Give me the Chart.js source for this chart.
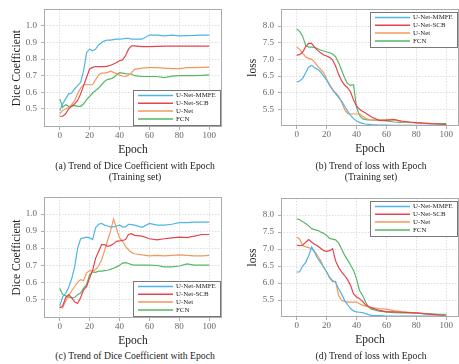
<!DOCTYPE html>
<html>
<head>
<meta charset="utf-8">
<script src="https://cdn.jsdelivr.net/npm/chart.js@4.4.1/dist/chart.umd.min.js"></script>
<style>
body{margin:0;width:459px;height:364px;overflow:hidden;background:#fff;position:relative;font-family:"Liberation Serif",serif;}
canvas{position:absolute;}
.cap{position:absolute;font-size:9.7px;color:#222;text-align:center;white-space:nowrap;line-height:11px;transform:translateX(-50%);}
</style>
</head>
<body>
<canvas id="chartA" style="left:0;top:0" width="230" height="159"></canvas>
<canvas id="chartB" style="left:229px;top:0" width="231" height="158"></canvas>
<canvas id="chartC" style="left:0;top:182px" width="230" height="168"></canvas>
<canvas id="chartD" style="left:229px;top:182px" width="231" height="167"></canvas>
<div class="cap" style="left:135px;top:160px">(a) Trend of Dice Coefficient with Epoch<br>(Training set)</div>
<div class="cap" style="left:371px;top:160px">(b) Trend of loss with Epoch<br>(Training set)</div>
<div class="cap" style="left:135px;top:350px">(c) Trend of Dice Coefficient with Epoch</div>
<div class="cap" style="left:371px;top:350px">(d) Trend of loss with Epoch</div>
<script>
// epochs sampled from the curves
const epochs = [0,2,4,6,8,10,12,14,16,18,20,22,24,26,28,30,32,34,36,38,40,42,44,46,48,50,55,60,65,70,75,80,85,90,95,100];
const seriesNames = ['U-Net-MMFE', 'U-Net-SCB', 'U-Net', 'FCN'];
const seriesColors = ['#4fb4e6', '#e4434f', '#f4985a', '#55b865'];
const epochTicks = [0, 20, 40, 60, 80, 100];
const diceTicks = [0.5, 0.6, 0.7, 0.8, 0.9, 1.0];
const lossTicks = [5.5, 6.0, 6.5, 7.0, 7.5, 8.0];

// (a) dice, training
const trainDiceMMFE = [0.49,0.53,0.56,0.59,0.595,0.62,0.64,0.66,0.73,0.84,0.86,0.85,0.86,0.885,0.9,0.91,0.915,0.915,0.918,0.92,0.92,0.922,0.925,0.925,0.92,0.92,0.92,0.945,0.945,0.94,0.945,0.94,0.942,0.943,0.945,0.945];
const trainDiceSCB = [0.455,0.455,0.47,0.5,0.515,0.53,0.55,0.59,0.64,0.69,0.74,0.75,0.755,0.755,0.755,0.755,0.758,0.763,0.77,0.78,0.79,0.795,0.82,0.86,0.88,0.88,0.875,0.875,0.877,0.878,0.878,0.878,0.878,0.878,0.878,0.878];
const trainDiceUNet = [0.47,0.49,0.5,0.505,0.525,0.55,0.59,0.625,0.645,0.645,0.645,0.645,0.675,0.705,0.715,0.715,0.72,0.727,0.72,0.712,0.703,0.698,0.695,0.703,0.718,0.738,0.745,0.748,0.748,0.745,0.742,0.742,0.748,0.748,0.75,0.752];
const trainDiceFCN = [0.56,0.51,0.525,0.515,0.515,0.52,0.515,0.515,0.53,0.555,0.575,0.595,0.61,0.625,0.645,0.665,0.678,0.68,0.688,0.705,0.718,0.715,0.712,0.71,0.71,0.7,0.695,0.695,0.695,0.688,0.697,0.7,0.7,0.7,0.702,0.705];

// (b) loss, training
const trainLossMMFE = [6.32,6.35,6.43,6.6,6.77,6.82,6.75,6.7,6.62,6.5,6.38,6.22,6.08,5.97,5.85,5.75,5.6,5.45,5.32,5.22,5.15,5.11,5.08,5.06,5.05,5.04,5.03,5.03,5.02,5.02,5.02,5.02,5.02,5.02,5.02,5.02];
const trainLossSCB = [7.13,7.14,7.22,7.38,7.48,7.48,7.36,7.27,7.2,7.13,7.1,7.06,6.98,6.8,6.55,6.36,6.23,6.15,6.02,5.78,5.6,5.5,5.44,5.39,5.33,5.27,5.17,5.17,5.19,5.15,5.12,5.1,5.09,5.07,5.06,5.04];
const trainLossUNet = [7.37,7.3,7.18,7.08,7.03,7.0,6.92,6.8,6.7,6.6,6.41,6.24,6.1,6.0,5.9,5.72,5.5,5.38,5.36,5.36,5.36,5.36,5.3,5.23,5.19,5.18,5.18,5.19,5.2,5.13,5.11,5.1,5.08,5.07,5.05,5.04];
const trainLossFCN = [7.91,7.84,7.69,7.42,7.37,7.37,7.36,7.32,7.28,7.25,7.23,7.2,7.16,7.08,6.9,6.68,6.45,6.27,6.22,6.24,5.56,5.32,5.22,5.19,5.18,5.18,5.17,5.15,5.12,5.11,5.12,5.09,5.08,5.07,5.07,5.07];

// (c) dice, validation
const valDiceMMFE = [0.46,0.515,0.535,0.57,0.62,0.69,0.8,0.855,0.86,0.865,0.86,0.85,0.92,0.94,0.945,0.935,0.93,0.925,0.925,0.93,0.935,0.925,0.925,0.94,0.938,0.935,0.922,0.945,0.935,0.935,0.94,0.95,0.95,0.952,0.952,0.953];
const valDiceSCB = [0.45,0.46,0.51,0.527,0.51,0.485,0.475,0.51,0.555,0.575,0.625,0.67,0.74,0.78,0.82,0.82,0.81,0.815,0.825,0.84,0.842,0.845,0.85,0.88,0.885,0.875,0.87,0.855,0.848,0.855,0.86,0.865,0.862,0.87,0.88,0.88];
const valDiceUNet = [0.45,0.45,0.49,0.52,0.55,0.575,0.6,0.615,0.61,0.655,0.668,0.665,0.675,0.695,0.73,0.785,0.845,0.9,0.97,0.915,0.86,0.84,0.81,0.79,0.775,0.767,0.76,0.755,0.757,0.755,0.758,0.76,0.757,0.755,0.755,0.757];
const valDiceFCN = [0.565,0.527,0.52,0.512,0.508,0.51,0.527,0.537,0.565,0.585,0.645,0.66,0.658,0.665,0.665,0.668,0.67,0.675,0.682,0.69,0.7,0.712,0.715,0.71,0.703,0.7,0.7,0.7,0.698,0.69,0.69,0.695,0.708,0.7,0.7,0.7];

// (d) loss, validation
const valLossMMFE = [6.32,6.33,6.5,6.6,6.8,7.06,6.9,6.72,6.6,6.47,6.33,6.17,6.07,6.02,5.83,5.68,5.49,5.36,5.25,5.18,5.15,5.14,5.13,5.1,5.07,5.05,5.04,5.03,5.03,5.03,5.03,5.03,5.03,5.03,5.03,5.03];
const valLossSCB = [7.11,7.1,7.11,7.2,7.28,7.2,7.14,7.09,7.02,6.95,6.93,6.95,7.01,6.65,6.46,6.33,6.22,6.1,5.93,5.68,5.59,5.54,5.46,5.36,5.31,5.27,5.2,5.15,5.15,5.14,5.13,5.12,5.1,5.08,5.06,5.03];
const valLossUNet = [7.35,7.29,7.1,7.06,7.04,7.01,6.92,6.8,6.66,6.46,6.33,6.14,6.04,6.05,5.64,5.49,5.46,5.44,5.44,5.44,5.44,5.39,5.35,5.32,5.3,5.28,5.25,5.23,5.19,5.16,5.14,5.12,5.1,5.08,5.06,5.05];
const valLossFCN = [7.89,7.86,7.8,7.75,7.68,7.6,7.57,7.55,7.5,7.46,7.4,7.31,7.29,7.27,7.18,7.0,6.82,6.68,6.53,6.37,6.12,5.78,5.64,5.44,5.3,5.23,5.17,5.15,5.13,5.12,5.12,5.11,5.1,5.09,5.08,5.08];

// plot frame + legend box drawn inside the chart area
const boxLegend = {
  id: 'boxLegend',
  afterDraw(chart, args, opts) {
    const ctx = chart.ctx, a = chart.chartArea;
    ctx.save();
    ctx.strokeStyle = '#aaa';
    ctx.lineWidth = 1;
    ctx.strokeRect(Math.round(a.left) + 0.5, Math.round(a.top) + 0.5, Math.round(a.right - a.left) - 1, Math.round(a.bottom - a.top) - 1);
    const w = 87, h = 35;
    const x0 = Math.round(a.right) - 2 - w;
    const y0 = opts.corner == 'tr' ? Math.round(a.top) + 3 : Math.round(a.bottom) - 2 - h;
    ctx.fillStyle = '#fff';
    ctx.fillRect(x0, y0, w, h);
    ctx.strokeStyle = '#777';
    ctx.strokeRect(x0 + 0.5, y0 + 0.5, w, h);
    ctx.font = '6.9px "Liberation Serif"';
    ctx.textBaseline = 'middle';
    chart.data.datasets.forEach((d, i) => {
      const y = y0 + 5.5 + i * 7.8;
      ctx.strokeStyle = d.borderColor;
      ctx.lineWidth = 1.5;
      ctx.beginPath();
      ctx.moveTo(x0 + 5, y);
      ctx.lineTo(x0 + 40, y);
      ctx.stroke();
      ctx.fillStyle = '#222';
      ctx.fillText(d.label, x0 + 43, y);
    });
    ctx.restore();
  }
};

function makeChart(id, series, yTitle, yTicks, yMin, yMax, yWidth, yTitlePad, padTop, padRight, corner) {
  const tickFont = {family: '"Liberation Serif"', size: 9};
  const titleFont = {family: '"Liberation Serif"', size: 11.5};
  return new Chart(document.getElementById(id), {
    type: 'line',
    data: {
      datasets: series.map((vals, i) => ({
        label: seriesNames[i],
        data: epochs.map((e, j) => ({x: e, y: vals[j]})),
        borderColor: seriesColors[i],
        borderWidth: 1.2,
        pointRadius: 0,
        tension: 0,
        fill: false
      }))
    },
    options: {
      responsive: false,
      animation: false,
      events: [],
      layout: {padding: {top: padTop, right: padRight, left: 0, bottom: 0}},
      plugins: {legend: {display: false}, tooltip: {enabled: false}, boxLegend: {corner: corner}},
      scales: {
        x: {
          type: 'linear', min: -10.5, max: 108.5,
          afterBuildTicks: s => { s.ticks = epochTicks.map(v => ({value: v})); },
          afterFit: s => { s.height = 32; },
          ticks: {font: tickFont, color: '#666', padding: 0, callback: v => String(v)},
          grid: {color: '#d6d6d6', tickColor: '#999', tickLength: 3, lineWidth: 0.8},
          border: {display: false, dash: [1.5, 1.5]},
          title: {display: true, text: 'Epoch', font: titleFont, color: '#222', padding: {top: 0, bottom: 2}}
        },
        y: {
          min: yMin, max: yMax,
          afterBuildTicks: s => { s.ticks = yTicks.map(v => ({value: v})); },
          afterFit: s => { s.width = yWidth; },
          ticks: {font: tickFont, color: '#666', padding: 4, callback: v => v.toFixed(1)},
          grid: {color: '#d6d6d6', tickColor: '#999', tickLength: 3, lineWidth: 0.8},
          border: {display: false, dash: [1.5, 1.5]},
          title: {display: true, text: yTitle, font: titleFont, color: '#222', padding: {top: yTitlePad, bottom: 0}}
        }
      }
    },
    plugins: [boxLegend]
  });
}

makeChart('chartA', [trainDiceMMFE, trainDiceSCB, trainDiceUNet, trainDiceFCN], 'Dice Coefficient', diceTicks, 0.39, 1.10, 44, 10, 5, 8, 'br');
makeChart('chartB', [trainLossMMFE, trainLossSCB, trainLossUNet, trainLossFCN], 'loss', lossTicks, 5.0, 8.5, 52, 17, 5, 1, 'tr');
makeChart('chartC', [valDiceMMFE, valDiceSCB, valDiceUNet, valDiceFCN], 'Dice Coefficient', diceTicks, 0.39, 1.10, 44, 10, 15, 8, 'br');
makeChart('chartD', [valLossMMFE, valLossSCB, valLossUNet, valLossFCN], 'loss', lossTicks, 5.0, 8.5, 52, 17, 16, 1, 'tr');
</script>
</body>
</html>
